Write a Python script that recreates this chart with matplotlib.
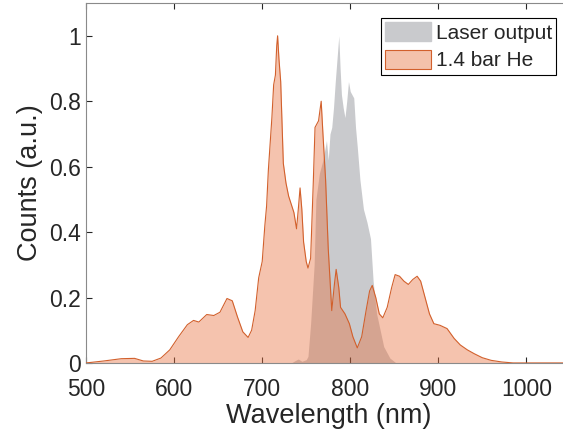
import numpy as np
import matplotlib
matplotlib.use("Agg")
import matplotlib.pyplot as plt
from matplotlib.patches import Patch

plt.rcParams.update({
    "font.family": ["Liberation Sans", "DejaVu Sans"],
    "text.color": "#262626",
    "axes.labelcolor": "#262626",
    "xtick.color": "#262626",
    "ytick.color": "#262626",
})

# ---------------------------------------------------------------------------
#  Data
# ---------------------------------------------------------------------------
wl_he = [500, 520, 540, 555, 565, 575, 585, 595, 605, 615, 622, 628, 637, 645,
         652, 660, 666, 672, 678, 684, 688, 692, 696, 700, 703, 705, 707, 711,
         713, 715, 716.5, 717.5, 719, 721, 724, 727, 730, 736, 739, 741, 743,
         745, 747, 750, 752, 755, 758, 760, 764, 767, 769, 772, 775, 779, 782,
         784, 787, 789, 794, 799, 803, 808, 813, 818, 822, 825, 829, 833, 837,
         842, 847, 851, 856, 861, 866, 871, 876, 880, 885, 890, 895, 902, 910,
         918, 925, 933, 941, 950, 960, 972, 985, 1000, 1050]
he_counts = [0.0, 0.006, 0.013, 0.014, 0.006, 0.005, 0.015, 0.04, 0.08, 0.117,
             0.13, 0.125, 0.148, 0.145, 0.155, 0.197, 0.19, 0.14, 0.095, 0.078,
             0.10, 0.16, 0.26, 0.31, 0.42, 0.48, 0.59, 0.75, 0.85, 0.88, 0.97,
             1.0, 0.93, 0.86, 0.61, 0.55, 0.51, 0.46, 0.41, 0.47, 0.535, 0.47,
             0.37, 0.31, 0.29, 0.32, 0.55, 0.72, 0.74, 0.80, 0.70, 0.56, 0.35,
             0.16, 0.24, 0.286, 0.23, 0.17, 0.15, 0.12, 0.08, 0.046, 0.08, 0.16,
             0.22, 0.237, 0.20, 0.15, 0.138, 0.17, 0.23, 0.27, 0.265, 0.25, 0.24,
             0.255, 0.265, 0.25, 0.20, 0.15, 0.12, 0.115, 0.105, 0.075, 0.055,
             0.04, 0.028, 0.016, 0.008, 0.003, 0.0, 0.0, 0.0]

wl_laser = [725, 733, 738, 741, 745, 750, 752, 755, 759, 761, 765, 769, 773,
            775, 777, 779, 781, 783, 785, 787, 788.5, 790, 792, 794, 796, 798,
            800, 802, 804, 806, 808, 811, 815, 819, 823, 826, 830, 834, 838,
            845, 852]
laser_counts = [0.0, 0.0, 0.008, 0.012, 0.005, 0.01, 0.02, 0.12, 0.30, 0.50,
                0.58, 0.62, 0.68, 0.62, 0.70, 0.72, 0.78, 0.86, 0.93, 1.0, 0.9,
                0.82, 0.78, 0.75, 0.80, 0.86, 0.83, 0.82, 0.81, 0.72, 0.66,
                0.56, 0.47, 0.43, 0.38, 0.25, 0.15, 0.10, 0.05, 0.015, 0.0]

xticks = [500, 600, 700, 800, 900, 1000]
yticks = [0, 0.2, 0.4, 0.6, 0.8, 1]
ytick_labels = ["0", "0.2", "0.4", "0.6", "0.8", "1"]

GRAY = "#c9cacd"
ORANGE_FILL = "#e8703e"
ORANGE_LINE = "#d2602c"
SPINE = "#8a8a8a"

# ---------------------------------------------------------------------------
#  Figure
# ---------------------------------------------------------------------------
fig = plt.figure(figsize=(5.63, 4.41), dpi=100)
ax = fig.add_axes([0.153, 0.177, 0.86, 0.816])

ax.fill_between(wl_laser, laser_counts, 0, color=GRAY, lw=0, zorder=1)
ax.fill_between(wl_he, he_counts, 0, color=ORANGE_FILL, alpha=0.42, lw=0, zorder=2)
ax.plot(wl_he, he_counts, color=ORANGE_LINE, lw=0.8, zorder=3)

ax.set_xlim(500, 1050)
ax.set_ylim(0, 1.1)
ax.set_xticks(xticks)
ax.set_yticks(yticks)
ax.set_yticklabels(ytick_labels)
ax.tick_params(direction="in", top=True, right=True, length=4, width=0.8,
               labelsize=16.5, color="#262626")
ax.tick_params(axis="x", pad=11)
ax.tick_params(axis="y", pad=4)
for s in ax.spines.values():
    s.set_color(SPINE)
    s.set_linewidth(0.8)

ax.set_xlabel("Wavelength (nm)", fontsize=19.5, labelpad=1)
ax.set_ylabel("Counts (a.u.)", fontsize=19.5, labelpad=4)

handles = [Patch(facecolor=GRAY, edgecolor=GRAY, label="Laser output"),
           Patch(facecolor="#f4c2ab", edgecolor=ORANGE_LINE, lw=0.8, label="1.4 bar He")]
leg = fig.legend(handles=handles, loc="upper right", bbox_to_anchor=(0.988, 0.959),
                 bbox_transform=fig.transFigure, fontsize=15, fancybox=False,
                 framealpha=1, edgecolor="black", borderpad=0.2, borderaxespad=0,
                 handlelength=2.2, handleheight=1.0, handletextpad=0.25,
                 labelspacing=0.35)
leg.get_frame().set_linewidth(0.8)

fig.savefig("out.png", dpi=100)
